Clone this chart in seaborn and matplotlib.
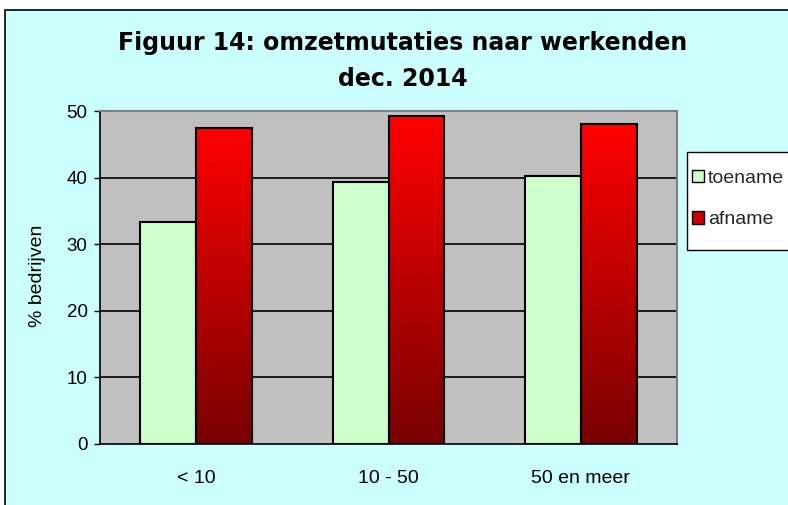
import numpy as np
import pandas as pd
import matplotlib
matplotlib.use('Agg')
import matplotlib.pyplot as plt
import seaborn as sns
from matplotlib.patches import Patch, Rectangle
from matplotlib.colors import LinearSegmentedColormap

# chart data
categories = ["< 10", "10 - 50", "50 en meer"]
toename = [33.3, 39.3, 40.2]
afname = [47.4, 49.2, 48.0]
series = ["toename", "afname"]

df = pd.DataFrame({
    "klasse": categories * 2,
    "serie": ["toename"] * 3 + ["afname"] * 3,
    "waarde": toename + afname,
})

sns.set_theme(style="white")
plt.rcParams['font.family'] = ['Liberation Sans', 'DejaVu Sans']

W, H = 788, 505
fig = plt.figure(figsize=(W / 100, H / 100), dpi=100, facecolor="white")

# outer chart area (cyan, border clipped on right/bottom like the original)
fig.patches.append(Rectangle((5 / W, -0.1), 1.2, 1 - 10 / H + 0.1,
                             transform=fig.transFigure, facecolor="#CCFFFF",
                             edgecolor="black", linewidth=1.2, zorder=-10))

ax = fig.add_axes([100 / W, 61 / H, 577 / W, 333 / H])
ax.set_facecolor("#C0C0C0")

sns.barplot(data=df, x="klasse", y="waarde", hue="serie", hue_order=series,
            palette={"toename": "#CCFFCC", "afname": "#FF0000"},
            width=0.58, gap=0, edgecolor="black", linewidth=1.5,
            saturation=1, legend=False, ax=ax, zorder=3)

ax.set_ylim(0, 50)
ax.set_yticks([0, 10, 20, 30, 40, 50])
xlim = ax.get_xlim()

# gradient fill for the red bars
red_cmap = LinearSegmentedColormap.from_list("rood", ["#780000", "#FF0000"])
grad = np.linspace(0, 1, 256).reshape(-1, 1)
red_bars = ax.patches[3:6]
for bar in red_bars:
    x0, w, h = bar.get_x(), bar.get_width(), bar.get_height()
    im = ax.imshow(grad, cmap=red_cmap, origin="lower", aspect="auto",
                   extent=(x0, x0 + w, 0, h), zorder=2.5)
    im.set_clip_path(bar)
    bar.set_facecolor("none")
ax.set_xlim(xlim)
ax.set_ylim(0, 50)

# grid lines
for y in [10, 20, 30, 40]:
    ax.axhline(y, color="black", linewidth=1.2, zorder=1)

for side in ["top", "right"]:
    ax.spines[side].set_color("#808080")
    ax.spines[side].set_linewidth(1.5)
ax.spines["left"].set_color("black")
ax.spines["bottom"].set_color("black")
ax.spines["left"].set_linewidth(1.2)
ax.spines["bottom"].set_linewidth(1.2)

ax.tick_params(axis="y", length=4, width=1, color="black", pad=5,
               labelsize=13.5, labelcolor="black", left=True)
ax.tick_params(axis="x", length=0, pad=19, labelsize=14, labelcolor="black")
ax.set_xlabel("")
ax.set_ylabel("")

fig.text(37 / W, 1 - 276 / H, "% bedrijven", rotation=90, fontsize=14,
         ha="center", va="center", color="black")

fig.text(403 / W, 1 - 61 / H, "Figuur 14: omzetmutaties naar werkenden\ndec. 2014",
         fontsize=17, fontweight="bold", ha="center", va="center",
         linespacing=1.6, color="black", family=["DejaVu Sans"])

# legend box (runs off the right edge as in the original)
fig.patches.append(Rectangle((687 / W, 1 - 250 / H), 0.2, 98 / H,
                             transform=fig.transFigure, facecolor="white",
                             edgecolor="black", linewidth=1, zorder=5))
handles = [Patch(facecolor="#CCFFCC", edgecolor="black", label="toename"),
           Patch(facecolor="#CC0000", edgecolor="black", label="afname")]
leg = fig.legend(handles=handles, loc="upper left",
                 bbox_to_anchor=(692 / W, 1 - 170 / H), frameon=False,
                 fontsize=14, handlelength=0.6, handleheight=0.6,
                 handletextpad=0.22, labelspacing=1.25, borderpad=0,
                 borderaxespad=0)
leg.set_zorder(6)

fig.savefig("out.png", dpi=100)
